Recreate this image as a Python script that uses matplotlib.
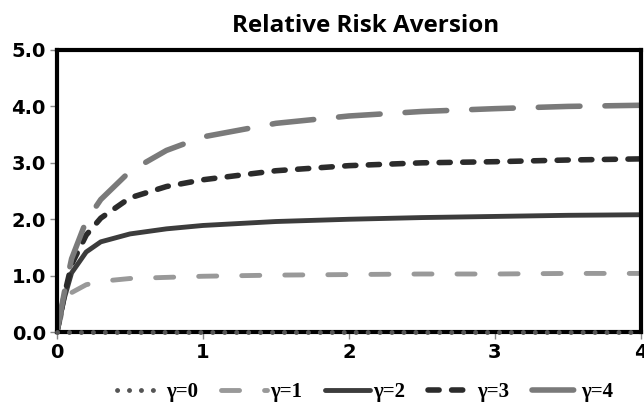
import matplotlib
matplotlib.use("Agg")
import matplotlib.pyplot as plt

# wealth grid and relative risk aversion
x = [0, 0.05, 0.1, 0.2, 0.3, 0.5, 0.75, 1, 1.5, 2, 2.5, 3, 3.5, 4]
rra_g0 = [0, 0, 0, 0, 0, 0, 0, 0, 0, 0, 0, 0, 0, 0]
rra_g1 = [0, 0.5, 0.7, 0.84, 0.9, 0.95, 0.97, 0.99, 1.01, 1.02, 1.03, 1.03, 1.04, 1.04]
rra_g2 = [0, 0.6, 1.05, 1.42, 1.6, 1.74, 1.83, 1.89, 1.96, 2.0, 2.03, 2.05, 2.07, 2.08]
rra_g3 = [0, 0.65, 1.2, 1.72, 2.02, 2.38, 2.58, 2.7, 2.86, 2.95, 3.0, 3.02, 3.05, 3.07]
rra_g4 = [0, 0.7, 1.3, 1.97, 2.35, 2.85, 3.22, 3.46, 3.7, 3.83, 3.91, 3.96, 4.0, 4.02]

labels = ["γ=0", "γ=1", "γ=2", "γ=3", "γ=4"]
xticks = [0, 1, 2, 3, 4]
yticks = [0, 1, 2, 3, 4, 5]

plt.rcParams['lines.scale_dashes'] = False

fig = plt.figure(figsize=(6.44, 4.08), dpi=100)
ax = fig.add_axes([0.0885, 0.186, 0.9065, 0.6915])

lw = 3.5
ax.plot(x, rra_g0, color="#555555", lw=3.5, dashes=(0.1, 8.5), dash_capstyle="round",
        label=labels[0], clip_on=False, zorder=4)
ax.plot(x, rra_g1, color="#999999", lw=lw, dashes=(13, 18), dash_capstyle="round",
        label=labels[1])
ax.plot(x, rra_g2, color="#3c3c3c", lw=lw, solid_capstyle="round", label=labels[2])
ax.plot(x, rra_g3, color="#2b2b2b", lw=lw + 0.5, dashes=(8, 9), dash_capstyle="round",
        label=labels[3])
ax.plot(x, rra_g4, color="#7a7a7a", lw=lw + 0.5, dashes=(30, 18), dash_capstyle="round",
        label=labels[4])

ax.set_xlim(0, 4)
ax.set_ylim(0, 5)
ax.set_xticks(xticks)
ax.set_xticklabels([str(t) for t in xticks])
ax.set_yticks(yticks)
ax.set_yticklabels([f"{t:.1f}" for t in yticks])
ax.tick_params(length=5, width=1, color="#888888", labelsize=14, pad=3)
for lab in ax.get_xticklabels() + ax.get_yticklabels():
    lab.set_fontweight("bold")
for s in ax.spines.values():
    s.set_linewidth(3)
    s.set_color("black")

fig.text(0.567, 0.937, "Relative Risk Aversion", ha="center", va="center",
         fontsize=17.5, fontweight="bold", family="Open Sans")

fig.legend(loc="center", bbox_to_anchor=(0.567, 0.038), ncol=5, frameon=False,
           prop={"family": "Liberation Serif", "weight": "bold", "size": 15},
           handlelength=2.2, handletextpad=0.15, columnspacing=1.1)

fig.savefig("out.png", dpi=100)
